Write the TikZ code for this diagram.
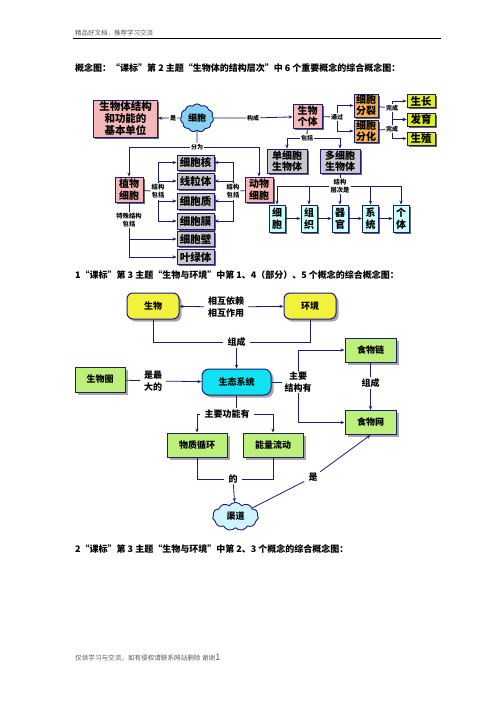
\documentclass[tikz,border=0pt]{standalone}
\usepackage{fontspec}
\setmainfont{Noto Sans CJK SC}
\usetikzlibrary{shapes.symbols,shadows,arrows.meta,calc}
\definecolor{navy}{HTML}{1C1C78}
\definecolor{cpink}{HTML}{F5B8B8}
\definecolor{corange}{HTML}{F7B445}
\definecolor{clime}{HTML}{DEEE22}
\definecolor{cgrey}{HTML}{C8C8CE}
\definecolor{clcyan}{HTML}{CCFFFF}
\definecolor{ccloud}{HTML}{86D2F2}
\definecolor{cyel}{HTML}{F2F23C}
\definecolor{cgreen}{HTML}{BDF07A}
\definecolor{ccyan}{HTML}{10E2F2}
\definecolor{cqd}{HTML}{CCF5FF}
\tikzset{
  bx/.style={draw=navy, line width=0.9pt, inner sep=0pt, align=center,
    font=\bfseries\fontsize{10.5}{12}\selectfont,
    drop shadow={shadow xshift=1.8pt, shadow yshift=-1.8pt, fill=black!60, opacity=1}},
  pinkbox/.style={bx, fill=cpink},
  orbox/.style={bx, fill=corange},
  limebox/.style={bx, fill=clime},
  greybox/.style={bx, fill=cgrey},
  cybox/.style={bx, fill=clcyan},
  bxb/.style={draw=navy, line width=1pt, inner sep=0pt, align=center,
    font=\bfseries\fontsize{9}{10}\selectfont,
    drop shadow={shadow xshift=2.5pt, shadow yshift=-2.5pt, fill=black!35, opacity=1}},
  yelbox/.style={bxb, fill=cyel, rounded corners=6pt},
  cybox2/.style={bxb, fill=ccyan, rounded corners=7pt},
  grbox/.style={bxb, fill=cgreen},
  cloudnode/.style={cloud, cloud puffs=11, cloud puff arc=110, draw=navy, line width=0.9pt,
    inner sep=0pt, align=center},
  lab/.style={inner sep=1pt, align=center, font=\bfseries\fontsize{6}{7}\selectfont},
  labb/.style={inner ysep=1pt, inner xsep=4pt, align=center, font=\bfseries\fontsize{9}{11.5}\selectfont},
  conn/.style={navy, line width=0.8pt},
  arr/.style={conn, -{Stealth[length=4pt,width=3.2pt]}},
  title/.style={anchor=west, inner sep=0pt, font=\bfseries\fontsize{9}{10}\selectfont},
}
\begin{document}
\begin{tikzpicture}[x=1pt,y=-1pt]
\useasboundingbox (0,0) rectangle (496,702);
\fill[white] (0,0) rectangle (496,702);

% header and footer
\node[anchor=west, inner sep=0pt, text=black!65, font=\fontsize{6.5}{7}\selectfont] (hdr) at (75,33.5) {精品好文档，推荐学习交流};
\draw[line width=0.8pt] (73,38.8) -- (441,38.8);
\node[anchor=west, inner sep=0pt, text=black!65, font=\fontsize{6.6}{7}\selectfont] (ftr) at (75,658) {仅供学习与交流，如有侵权请联系网站删除 谢谢{\fontsize{9}{10}\selectfont 1}};

% titles
\node[title] (t1) at (75,68) {概念图：“课标”第 2 主题“生物体的结构层次”中 6 个重要概念的综合概念图：};
\node[title] (t2) at (75,275) {1“课标”第 3 主题“生物与环境”中第 1、4（部分）、5 个概念的综合概念图：};
\node[title] (t3) at (75,549) {2“课标”第 3 主题“生物与环境”中第 2、3 个概念的综合概念图：};

% ---------------- diagram 1 ----------------
\node[pinkbox, minimum width=64pt, minimum height=37pt] (unit) at (125.5,118.5) {生物体结构\\和功能的\\基本单位};
\node[cloudnode, fill=ccloud, minimum width=33pt, minimum height=21pt, font=\bfseries\fontsize{9}{10}\selectfont] (cell) at (197,118) {细胞};
\node[lab] (lShi) at (173,118) {是};
\node[lab] (lGc) at (253,118) {构成};
\node[pinkbox, minimum width=29pt, minimum height=24pt, font=\bfseries\fontsize{10}{11}\selectfont] (indiv) at (307.5,116.5) {生物\\个体};
\node[lab] (lTg) at (337,117) {通过};
\node[orbox, minimum width=24pt, minimum height=23pt, font=\bfseries\fontsize{10}{11}\selectfont] (fenlie) at (366,105.5) {细胞\\分裂};
\node[orbox, minimum width=24pt, minimum height=22pt, font=\bfseries\fontsize{10}{11}\selectfont] (fenhua) at (366,131) {细胞\\分化};
\node[lab] (lW1) at (392,108) {完成};
\node[lab] (lW2) at (392,129) {完成};
\node[limebox, minimum width=28pt, minimum height=13pt] (szh) at (421,101) {生长};
\node[limebox, minimum width=28pt, minimum height=13pt] (fayu) at (421,119.5) {发育};
\node[limebox, minimum width=28pt, minimum height=13pt] (szhi) at (421,138.5) {生殖};
\node[lab] (lBk) at (307,138) {包括};
\node[greybox, minimum width=40pt, minimum height=24pt, font=\bfseries\fontsize{10}{11}\selectfont] (dan) at (287,161) {单细胞\\生物体};
\node[greybox, minimum width=40pt, minimum height=24pt, font=\bfseries\fontsize{10}{11}\selectfont] (duo) at (340,161) {多细胞\\生物体};
\node[lab] (lFw) at (197,147) {分为};
\node[pinkbox, minimum width=28pt, minimum height=25pt, font=\bfseries\fontsize{10}{11.5}\selectfont] (zhiwu) at (129,189.5) {植物\\细胞};
\node[pinkbox, minimum width=28pt, minimum height=25pt, font=\bfseries\fontsize{10}{11.5}\selectfont] (dongwu) at (259,189.5) {动物\\细胞};
\node[greybox, minimum width=37pt, minimum height=15pt] (he) at (195.5,162.5) {细胞核};
\node[greybox, minimum width=37pt, minimum height=16pt] (xian) at (195.5,181) {线粒体};
\node[greybox, minimum width=37pt, minimum height=16pt] (zhi) at (195.5,201) {细胞质};
\node[greybox, minimum width=37pt, minimum height=16pt] (mo) at (195.5,221) {细胞膜};
\node[greybox, minimum width=37pt, minimum height=15pt] (bi) at (195.5,239) {细胞壁};
\node[greybox, minimum width=37pt, minimum height=15pt] (lv) at (195.5,257) {叶绿体};
\node[lab, font=\bfseries\fontsize{6.3}{8}\selectfont] (lbL) at (158,191.5) {结构\\包括};
\node[lab, font=\bfseries\fontsize{6.3}{8}\selectfont] (lbR) at (233,191.5) {结构\\包括};
\node[lab, font=\bfseries\fontsize{6.3}{8}\selectfont] (lbS) at (129,220) {特殊结构\\包括};
\node[lab, font=\bfseries\fontsize{6.3}{8}\selectfont] (lbC) at (340,186) {结构\\层次是};
\node[cybox, minimum width=16pt, minimum height=27pt, font=\bfseries\fontsize{10}{12}\selectfont] (l1) at (277,218.5) {细\\胞};
\node[cybox, minimum width=16pt, minimum height=27pt, font=\bfseries\fontsize{10}{12}\selectfont] (l2) at (309,218.5) {组\\织};
\node[cybox, minimum width=16pt, minimum height=27pt, font=\bfseries\fontsize{10}{12}\selectfont] (l3) at (340,218.5) {器\\官};
\node[cybox, minimum width=16pt, minimum height=27pt, font=\bfseries\fontsize{10}{12}\selectfont] (l4) at (370.5,218.5) {系\\统};
\node[cybox, minimum width=16pt, minimum height=27pt, font=\bfseries\fontsize{10}{12}\selectfont] (l5) at (401,218.5) {个\\体};

\draw[conn] (cell) -- (lShi);
\draw[arr] (lShi) -- (unit);
\draw[conn] (cell) -- (lGc);
\draw[arr] (lGc) -- (indiv);
\draw[conn] (indiv) -- (lTg);
\draw[arr] (lTg) |- (fenlie.west);
\draw[arr] (lTg) |- (fenhua.west);
\draw[conn] (fenlie) -- (lW1);
\draw[conn] (fenhua) -- (lW2);
\draw[arr] (lW1) |- (szh.west);
\draw[arr] (lW1) |- (fayu.west);
\draw[arr] (lW2) |- (fayu.west);
\draw[arr] (lW2) |- (szhi.west);
\draw[conn] (indiv) -- (lBk);
\draw[arr] (lBk) -| (dan.north);
\draw[arr] (lBk) -| (duo.north);
\draw[conn] (cell) -- (lFw);
\draw[arr] (lFw) -| (zhiwu.north);
\draw[arr] (lFw) -| (dongwu.north);
\draw[conn] (zhiwu) -- (lbL);
\draw[arr] (lbL) |- (he.west);
\draw[arr] (lbL) |- (xian.west);
\draw[arr] (lbL) |- (zhi.west);
\draw[arr] (lbL) |- (mo.west);
\draw[conn] (dongwu) -- (lbR);
\draw[arr] (lbR) |- (he.east);
\draw[arr] (lbR) |- (xian.east);
\draw[arr] (lbR) |- (zhi.east);
\draw[arr] (lbR) |- (mo.east);
\draw[conn] (zhiwu) -- (lbS);
\draw[arr] (lbS) |- (bi.west);
\draw[arr] (lbS) |- (lv.west);
\draw[conn] (duo) -- (lbC);
\draw[arr] (lbC) -| (l1.north);
\draw[arr] (lbC) -| (l2.north);
\draw[arr] (lbC) -- (l3.north);
\draw[arr] (lbC) -| (l4.north);
\draw[arr] (lbC) -| (l5.north);
\draw[arr] (l1) -- (l2);
\draw[arr] (l2) -- (l3);
\draw[arr] (l3) -- (l4);
\draw[arr] (l4) -- (l5);

% ---------------- diagram 2 ----------------
\node[yelbox, minimum width=52pt, minimum height=26pt] (sw) at (153,306) {生物};
\node[yelbox, minimum width=52pt, minimum height=26pt] (hj) at (310,306) {环境};
\node[labb] (lXH) at (226,307) {相互依赖\\相互作用};
\node[labb] (lZC) at (236.5,342) {组成};
\node[cybox2, minimum width=69pt, minimum height=26pt] (stxt) at (236.5,382) {生态系统};
\node[grbox, minimum width=50pt, minimum height=25pt] (swq) at (100,379.5) {生物圈};
\node[labb] (lZD) at (153,381) {是最\\大的};
\node[labb, inner xsep=2pt] (lJG) at (298,382) {主要\\结构有};
\node[grbox, minimum width=51pt, minimum height=24pt] (swl) at (370.5,350) {食物链};
\node[labb] (lZC2) at (370.5,383) {组成};
\node[grbox, minimum width=51pt, minimum height=24pt] (swn) at (370.5,422.5) {食物网};
\node[labb] (lGN) at (227,414) {主要功能有};
\node[grbox, minimum width=60pt, minimum height=24pt] (wz) at (197,445) {物质循环};
\node[grbox, minimum width=60pt, minimum height=24pt] (nl) at (273,445) {能量流动};
\node[labb] (lDe) at (233,479) {的};
\node[cloudnode, fill=cqd, minimum width=46pt, minimum height=25pt, font=\bfseries\fontsize{9}{10}\selectfont] (qd) at (235.5,516.5) {渠道};
\node[labb] (lShi2) at (313,477) {是};

\draw[arr] (lXH) -- (sw);
\draw[arr] (lXH) -- (hj);
\draw[conn] (sw) |- (lZC);
\draw[conn] (hj) |- (lZC);
\draw[arr] (lZC) -- (stxt);
\draw[conn] (swq) -- (lZD);
\draw[arr] (lZD) -- (stxt);
\draw[conn] (stxt) -- (lJG);
\draw[arr] (lJG) |- (swl.west);
\draw[arr] (lJG) |- (swn.west);
\draw[conn] (swl) -- (lZC2);
\draw[arr] (lZC2) -- (swn);
\draw[conn] (stxt.south) -- (stxt.south |- lGN.north);
\draw[arr] (lGN) -| (wz.north);
\draw[arr] (lGN) -| (nl.north);
\draw[conn] (wz) |- (lDe);
\draw[conn] (nl) |- (lDe);
\draw[arr] (lDe) -- (qd);
\draw[conn] (qd) -- (lShi2);
\draw[arr] (lShi2) -- (swn.south);
\end{tikzpicture}
\end{document}
